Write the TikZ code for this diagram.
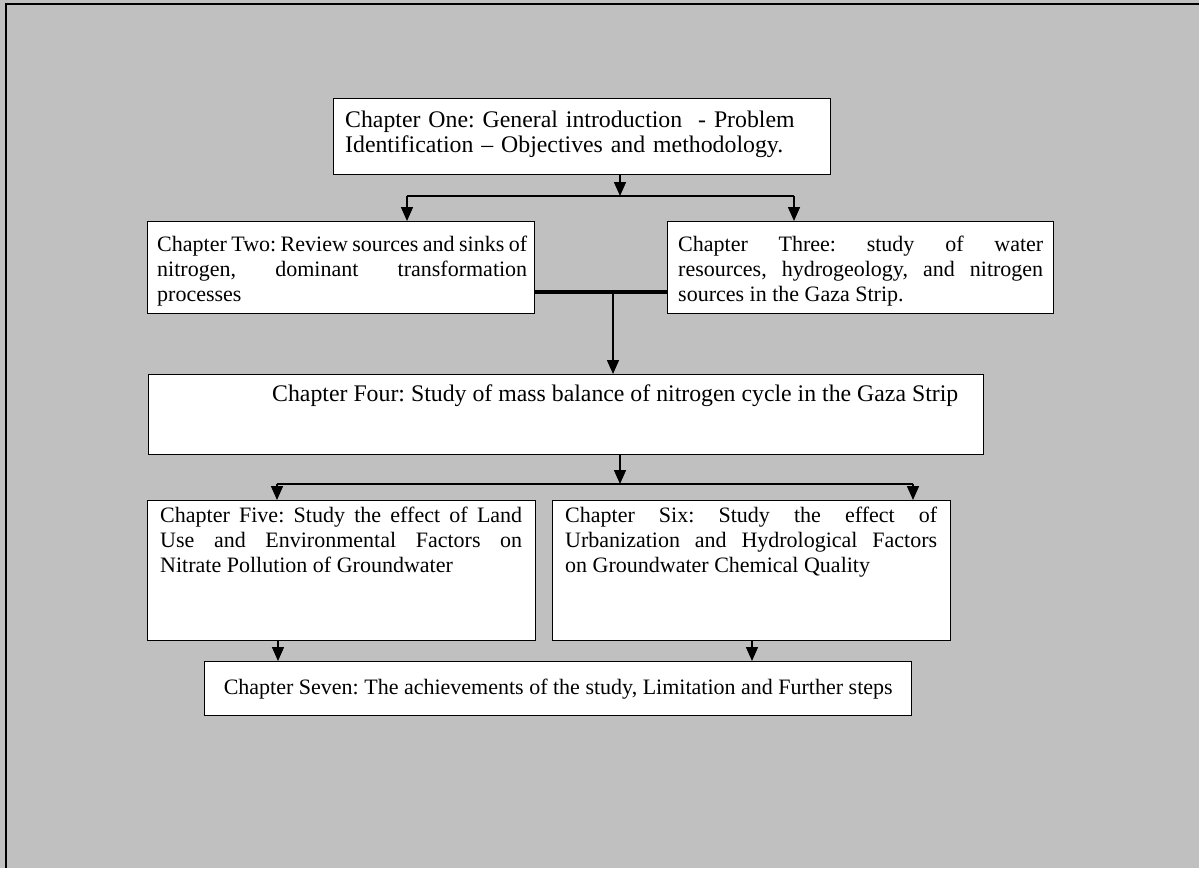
\documentclass[tikz,border=0pt]{standalone}
\usepackage{fontspec}
\setmainfont{Liberation Serif}
\usetikzlibrary{arrows.meta}
\definecolor{pagegray}{HTML}{C0C0C0}
\hyphenpenalty=10000\relax
\exhyphenpenalty=10000\relax
\frenchspacing
\spaceskip=5.5pt plus 10pt minus 1.3pt\relax
\begin{document}
\begin{tikzpicture}[x=1pt,y=-1pt,
  box/.style={draw=black, line width=1.4pt, fill=white, inner sep=0pt, anchor=north west},
  txt/.style={inner sep=0pt, anchor=base west, font=\fontsize{22}{25}\selectfont},
  bigtxt/.style={txt, font=\fontsize{23.8}{25}\selectfont},
  conn/.style={line width=1.5pt},
  arr/.style={conn, -{Triangle[width=12pt,length=14pt]}},
  bar/.style={line width=3.5pt}
]
\useasboundingbox (0,0) rectangle (1199,868);
\fill[pagegray] (0,0) rectangle (1199,868);
% outer frame (only its top and left sides fall on the page)
\draw[line width=2.5pt] (6,868) -- (6,4) -- (1199,4);

% chapter boxes
\node[box, minimum width=497pt, minimum height=76pt] (c1) at (333,98) {};
\node[box, minimum width=387pt, minimum height=92pt] (c2) at (147,221) {};
\node[box, minimum width=386pt, minimum height=92pt] (c3) at (667,221) {};
\node[box, minimum width=835pt, minimum height=80pt] (c4) at (148,374) {};
\node[box, minimum width=388pt, minimum height=140pt] (c5) at (147,500) {};
\node[box, minimum width=398pt, minimum height=140pt] (c6) at (552,500) {};
\node[box, minimum width=707pt, minimum height=54pt] (c7) at (204,661) {};

% chapter texts
\node[bigtxt, text width=480pt, align=left] (t1) at ([shift={(12,29)}]c1.north west)
  {Chapter One: General introduction \ - Problem\\Identification -- Objectives and methodology.};
\node[txt, text width=370pt, align=justify] (t2) at ([shift={(10,30)}]c2.north west)
  {Chapter Two: Review sources and sinks of\linebreak nitrogen, dominant transformation\linebreak processes};
\node[txt, text width=365pt, align=justify] (t3) at ([shift={(11,30)}]c3.north west)
  {Chapter Three: study of water\linebreak resources, hydrogeology, and nitrogen\linebreak sources in the Gaza Strip.};
\node[bigtxt] (t4) at ([shift={(124,27)}]c4.north west)
  {Chapter Four: Study of mass balance of nitrogen cycle in the Gaza Strip};
\node[txt, text width=362pt, align=justify] (t5) at ([shift={(13,22)}]c5.north west)
  {Chapter Five: Study the effect of Land\linebreak Use and Environmental Factors on\linebreak Nitrate Pollution of Groundwater};
\node[txt, text width=372pt, align=justify] (t6) at ([shift={(13,22)}]c6.north west)
  {Chapter Six: Study the effect of\linebreak Urbanization and Hydrological Factors\linebreak on Groundwater Chemical Quality};
\node[txt, anchor=base] (t7) at ([yshift=-33pt]c7.north)
  {Chapter Seven: The achievements of the study, Limitation and Further steps};

% junction points of the connectors
\coordinate (j1) at (620,196);
\coordinate (l1) at (407,196);
\coordinate (r1) at (794,196);
\coordinate (m)  at (613,292);
\coordinate (j2) at (620,484);
\coordinate (l2) at (277,484);
\coordinate (r2) at (913,484);
\coordinate (p5) at (278,650);
\coordinate (p6) at (752,650);

% Chapter One to Chapters Two and Three
\draw[arr] (c1.south -| j1) -- (j1);
\draw[conn] (l1) -- (r1);
\draw[arr] (l1) -- (l1 |- c2.north);
\draw[arr] (r1) -- (r1 |- c3.north);

% Chapters Two and Three joined into Chapter Four
\draw[bar] (c2.east |- m) -- (c3.west |- m);
\draw[arr] (m) -- (m |- c4.north);

% Chapter Four to Chapters Five and Six
\draw[arr] (c4.south -| j2) -- (j2);
\draw[conn] (l2) -- (r2);
\draw[arr] (l2) -- (l2 |- c5.north);
\draw[arr] (r2) -- (r2 |- c6.north);

% Chapters Five and Six to Chapter Seven
\draw[arr] (c5.south -| p5) -- (c7.north -| p5);
\draw[arr] (c6.south -| p6) -- (c7.north -| p6);
\end{tikzpicture}
\end{document}
